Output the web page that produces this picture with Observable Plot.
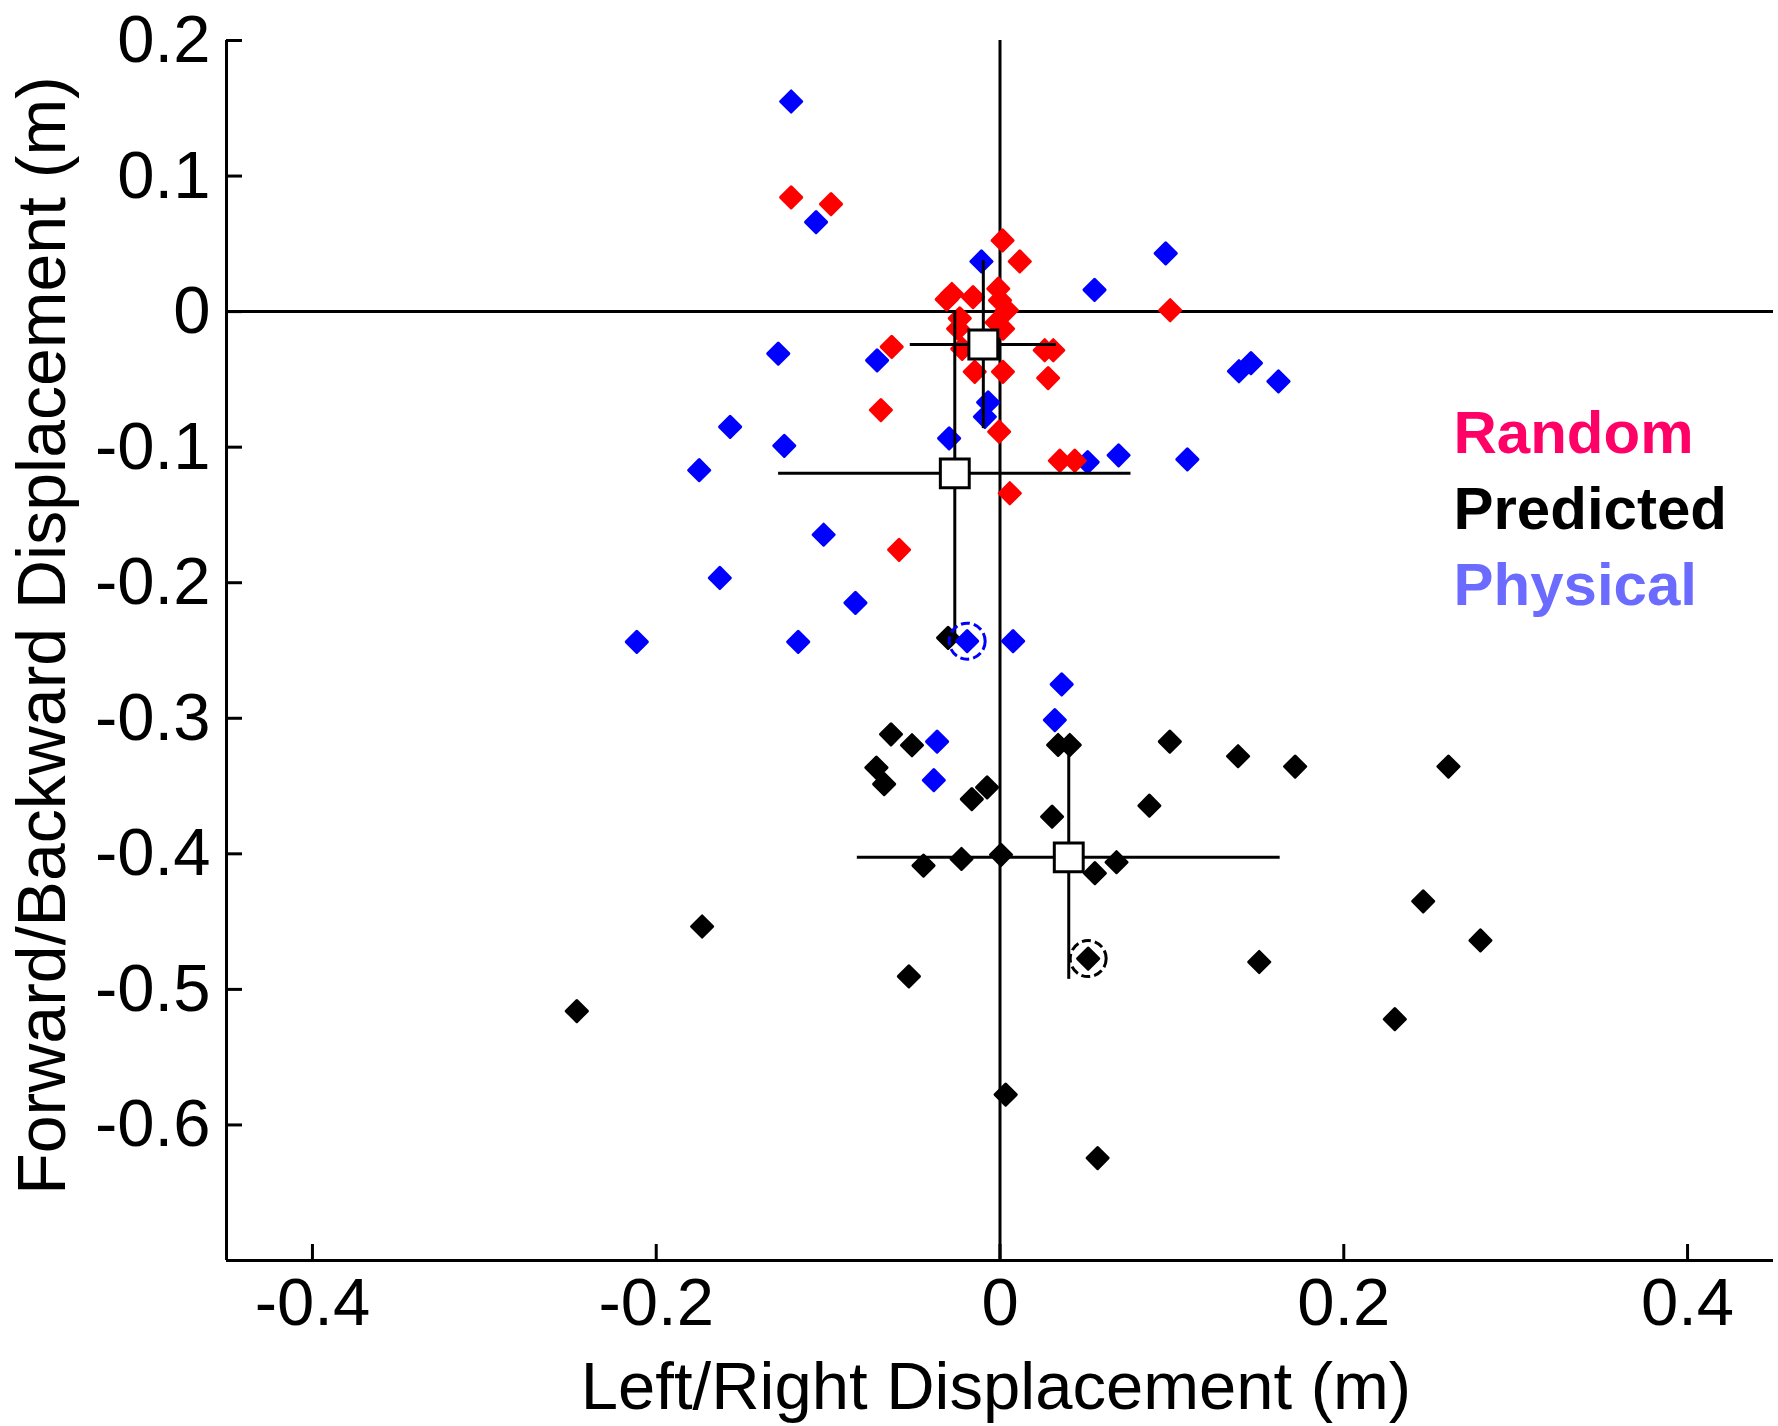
<!DOCTYPE html>
<html>
<head>
<meta charset="utf-8">
<script src="https://cdn.jsdelivr.net/npm/d3@7"></script>
<script src="https://cdn.jsdelivr.net/npm/@observablehq/plot@0.6"></script>
<style>
  html, body { margin: 0; padding: 0; background: #fff; }
</style>
</head>
<body>
<div id="chart"></div>
<script>
// ---- Data ----
const xDomain = [-0.45, 0.45];
const yDomain = [-0.7, 0.2];
const xTicks = [-0.4, -0.2, 0, 0.2, 0.4];
const xTickLabels = ["-0.4", "-0.2", "0", "0.2", "0.4"];
const yTicks = [0.2, 0.1, 0, -0.1, -0.2, -0.3, -0.4, -0.5, -0.6];
const yTickLabels = ["0.2", "0.1", "0", "-0.1", "-0.2", "-0.3", "-0.4", "-0.5", "-0.6"];
const xTitle = "Left/Right Displacement (m)";
const yTitle = "Forward/Backward Displacement (m)";

const seriesNames = ["Random", "Predicted", "Physical"];
const pointColors = ["#ff0000", "#000000", "#0000ff"];
const legendColors = ["#ff0066", "#000000", "#6b6bff"];

const randomX = [-0.1215, -0.0983, 0.0015, 0.0115, 0.099, -0.063, 0.026, 0.031, 0.028, -0.0693,
  0.0348, 0.0435, 0.0057, -0.0587, -0.0005, -0.0147, 0.0017, -0.028, -0.031, -0.0157,
  -0.001, 0.000, 0.004, -0.0234, -0.0244, -0.002, -0.022, 0.0018];
const randomY = [0.0843, 0.0793, 0.0525, 0.037, 0.001, -0.026, -0.0285, -0.0285, -0.049, -0.0726,
  -0.110, -0.110, -0.134, -0.1757, -0.0886, -0.0444, -0.0444, 0.013, 0.009, 0.0107,
  0.0169, 0.0083, 0.001, -0.005, -0.0126, -0.008, -0.0275, -0.0126];

const predictedX = [-0.0302, -0.0634, -0.0512, -0.0719, -0.0674, -0.0164, -0.0075, 0.0303, 0.0338, 0.0406,
  0.0988, 0.0869, 0.1385, 0.1717, 0.2609, -0.0224, 0.0006, -0.0445, 0.0552, 0.0678,
  -0.1733, -0.053, 0.0513, 0.1508, 0.2462, 0.2795, 0.2297, -0.2462, 0.0033, 0.0568];
const predictedY = [-0.2407, -0.3118, -0.3199, -0.3364, -0.3486, -0.3596, -0.351, -0.3726, -0.3197, -0.3197,
  -0.3172, -0.3645, -0.328, -0.3356, -0.3356, -0.4038, -0.4007, -0.4087, -0.4143, -0.4062,
  -0.4536, -0.4904, -0.4773, -0.4798, -0.435, -0.4639, -0.522, -0.516, -0.5776, -0.6244];

const physicalX = [-0.1215, -0.107, -0.0108, 0.0964, 0.055, -0.129, -0.0715, -0.157, -0.1255, -0.175,
  -0.0069, -0.0088, -0.0296, 0.051, 0.069, 0.109, 0.139, 0.146, 0.162, -0.1026,
  -0.163, -0.0841, -0.2113, -0.1174, -0.0191, 0.0076, 0.0359, 0.0319, -0.0366, -0.0385];
const physicalY = [0.155, 0.066, 0.037, 0.043, 0.016, -0.031, -0.036, -0.085, -0.099, -0.117,
  -0.067, -0.0776, -0.0935, -0.111, -0.106, -0.109, -0.044, -0.038, -0.0515, -0.1646,
  -0.1965, -0.2149, -0.2436, -0.2436, -0.2431, -0.2431, -0.275, -0.3013, -0.3172, -0.3457];

// means and error bar half-widths (Random, Predicted, Physical)
const meanX = [-0.0097, 0.040, -0.0263];
const meanY = [-0.0243, -0.4026, -0.1193];
const errX = [0.0425, 0.123, 0.1025];
const errY = [0.062, 0.09, 0.12];

// highlighted (ringed) points
const ringSeries = ["Physical", "Predicted"];
const ringX = [-0.0191, 0.0513];
const ringY = [-0.2431, -0.4773];

// ---- Tables built from arrays ----
const toPts = (xs, ys) => xs.map((x, i) => ({x, y: ys[i]}));
const ptsRandom = toPts(randomX, randomY);
const ptsPredicted = toPts(predictedX, predictedY);
const ptsPhysical = toPts(physicalX, physicalY);
const means = meanX.map((x, i) => ({series: seriesNames[i], x, y: meanY[i], ex: errX[i], ey: errY[i]}));
const rings = ringX.map((x, i) => ({x, y: ringY[i], color: pointColors[seriesNames.indexOf(ringSeries[i])]}));

// ---- Layout ----
const W = 1778, H = 1426;
const mL = 226, mR = 5, mT = 40, mB = 166;
const frameW = W - mL - mR, frameH = H - mT - mB;
const tickLen = 16;
const font = "'Liberation Sans', Arial, Helvetica, sans-serif";

const dotOpts = (color) => ({x: "x", y: "y", symbol: "diamond2", r: 9.5, fill: color, stroke: color, strokeWidth: 3, strokeLinejoin: "round"});

const legendMarks = seriesNames.map((name, i) =>
  Plot.text([name], {
    text: d => d, frameAnchor: "top-left", textAnchor: "start", lineAnchor: "middle",
    dx: 1453 - mL, dy: 393 + i * 76,
    fill: legendColors[i], fontSize: 60, fontWeight: "bold"
  })
);

const chart = Plot.plot({
  width: W, height: H,
  marginLeft: mL, marginRight: mR, marginTop: mT, marginBottom: mB,
  style: {fontFamily: font, fontSize: "67px", color: "#000", background: "#fff", overflow: "visible"},
  x: {domain: xDomain},
  y: {domain: yDomain},
  marks: [
    Plot.axisY(yTicks, {tickSize: 0, tickPadding: 16, fontSize: 67, label: null,
      tickFormat: d => yTickLabels[yTicks.indexOf(d)]}),
    Plot.axisX(xTicks, {tickSize: 0, tickPadding: 17, fontSize: 67, label: null,
      tickFormat: d => xTickLabels[xTicks.indexOf(d)]}),
    // axis lines
    Plot.ruleX([xDomain[0]], {stroke: "#000", strokeWidth: 3}),
    Plot.ruleY([yDomain[0]], {stroke: "#000", strokeWidth: 3}),
    // inward ticks
    Plot.tickY(yTicks, {y: d => d, stroke: "#000", strokeWidth: 3, insetRight: frameW - tickLen}),
    Plot.tickX(xTicks, {x: d => d, stroke: "#000", strokeWidth: 3, insetTop: frameH - tickLen}),
    // crosshair
    Plot.ruleX([0], {stroke: "#000", strokeWidth: 3}),
    Plot.ruleY([0], {stroke: "#000", strokeWidth: 3}),
    // points
    Plot.dot(ptsPredicted, dotOpts(pointColors[1])),
    Plot.dot(ptsPhysical, dotOpts(pointColors[2])),
    Plot.dot(ptsRandom, dotOpts(pointColors[0])),
    // error bars
    Plot.ruleY(means, {y: "y", x1: d => d.x - d.ex, x2: d => d.x + d.ex, stroke: "#000", strokeWidth: 3}),
    Plot.ruleX(means, {x: "x", y1: d => d.y - d.ey, y2: d => d.y + d.ey, stroke: "#000", strokeWidth: 3}),
    // mean squares
    Plot.dot(means, {x: "x", y: "y", symbol: "square", r: 16.3, fill: "#fff", stroke: "#000", strokeWidth: 3}),
    // rings
    Plot.dot(rings, {x: "x", y: "y", r: 18, fill: "none", stroke: d => d.color, strokeWidth: 3, strokeDasharray: "9,4"}),
    // axis titles
    Plot.text([xTitle], {text: d => d, frameAnchor: "bottom", textAnchor: "middle", lineAnchor: "middle", dx: -4, dy: 127, fontSize: 67}),
    Plot.text([yTitle], {text: d => d, frameAnchor: "left", textAnchor: "middle", lineAnchor: "middle", rotate: -90, dx: -183, dy: -15, fontSize: 68}),
    ...legendMarks
  ]
});

document.getElementById("chart").appendChild(chart);
</script>
</body>
</html>
